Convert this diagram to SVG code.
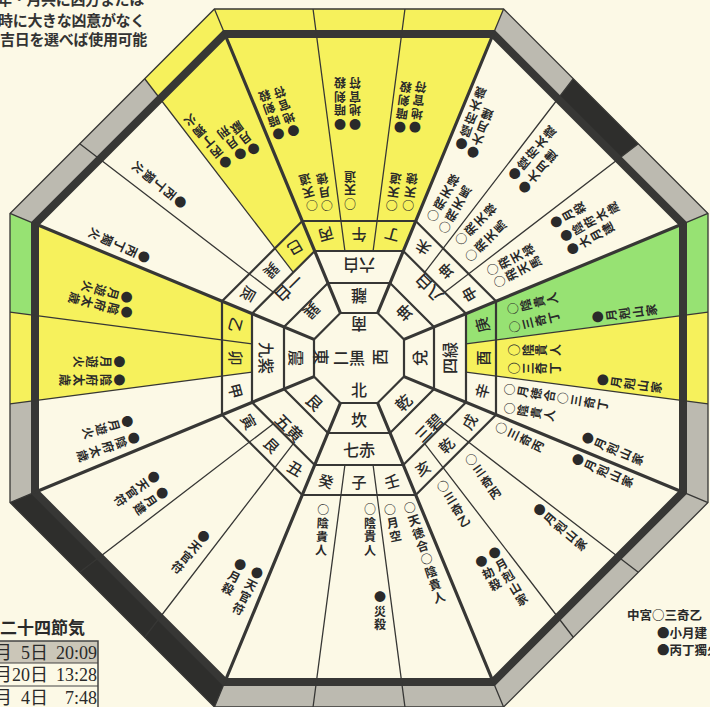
<svg xmlns="http://www.w3.org/2000/svg" width="710" height="707" viewBox="0 0 710 707">
<style>
.gray{fill:#bcbab0}
.yel{fill:#f6f15c}
.grn{fill:#97e273}
.blk{fill:#2e2e2c}
.ln{fill:none;stroke:#373735;stroke-linejoin:miter}
.ring{stroke-width:2.2}
.thick{stroke-width:3.2}
.thin{stroke-width:1.3}
.v{writing-mode:vertical-rl;text-orientation:upright;font-family:'Noto Sans CJK JP',sans-serif;font-size:12px;font-weight:700;fill:#2a2a2a;letter-spacing:1.5px}
.lab{font-family:'Noto Sans CJK JP',sans-serif;font-size:16px;font-weight:500;fill:#2a2a2a;text-anchor:middle;dominant-baseline:central}
.m{font-size:15px}
</style>
<rect width="710" height="707" fill="#fcf9e6"/>

<g id="band">
<path class="gray" fill-rule="evenodd" d="M214.44,9 L503.56,9 L708,213.44 L708,502.56 L503.56,707 L214.44,707 L10,502.56 L10,213.44 Z M224.8,34 L35,223.8 L35,492.2 L224.8,682 L493.2,682 L683,492.2 L683,223.8 L493.2,34 Z"/>
<polygon class="yel" points="214.44,9 503.56,9 493.2,34 224.8,34"/>
<polygon class="yel" points="224.8,34 214.44,9 144.71,78.73 160.06,98.74"/>
<polygon class="grn" points="35,223.8 10,213.44 10,312.05 35,315.35"/>
<polygon class="yel" points="35,315.35 10,312.05 10,403.95 35,400.65"/>
<polygon class="grn" points="683,223.8 708,213.44 708,312.05 683,315.35"/>
<polygon class="yel" points="683,315.35 708,312.05 708,403.95 683,400.65"/>
<polygon class="blk" points="557.94,98.74 573.29,78.73 638.27,143.71 618.26,159.06"/>
<polygon class="blk" points="35,492.2 10,502.56 214.44,707 224.8,682"/>
</g>

<g id="fills">
<polygon class="yel" points="314.68,251 403.32,251 493.2,34 224.8,34"/>
<polygon class="yel" points="314.68,251 224.8,34 160.06,98.74 293.30,272.38"/>
<polygon class="yel" points="252,313.68 35,223.8 35,400.65 252,372.09"/>
<polygon class="grn" points="466,313.68 683,223.8 683,315.35 466,343.91"/>
<polygon class="yel" points="466,343.91 683,315.35 683,400.65 466,372.09"/>
</g>

<g id="connectors">
<polygon class="ln thin" points="214.44,9 503.56,9 708,213.44 708,502.56 503.56,707 214.44,707 10,502.56 10,213.44"/>
<polygon class="ln" stroke-width="8" points="224.8,34 493.2,34 683,223.8 683,492.2 493.2,682 224.8,682 35,492.2 35,223.8"/>
<polygon class="ln ring" stroke-width="2.6" points="302.25,221 415.75,221 496,301.25 496,414.75 415.75,495 302.25,495 222,414.75 222,301.25"/>
<polygon class="ln ring" points="314.68,251 403.32,251 466,313.68 466,402.32 403.32,465 314.68,465 252,402.32 252,313.68"/>
<polygon class="ln ring" points="327.93,283 390.07,283 434,326.93 434,389.07 390.07,433 327.93,433 284,389.07 284,326.93"/>
<polygon class="ln ring" points="340.36,313 377.64,313 404,339.36 404,376.64 377.64,403 340.36,403 314,376.64 314,339.36"/>
<path class="ln thick" d="M340.36,313 L224.8,34 M377.64,313 L493.2,34 M404,339.36 L683,223.8 M404,376.64 L683,492.2 M377.64,403 L493.2,682 M340.36,403 L224.8,682 M314,376.64 L35,492.2 M314,339.36 L35,223.8"/>
<path class="ln thin" d="M224.8,34 L214.44,9 M493.2,34 L503.56,9 M683,223.8 L708,213.44 M683,492.2 L708,502.56 M493.2,682 L503.56,707 M224.8,682 L214.44,707 M35,492.2 L10,502.56 M35,223.8 L10,213.44"/>
<path class="ln thin" d="M344.91,251 L313.05,9 M373.09,251 L404.95,9 M373.09,465 L404.95,707 M344.91,465 L313.05,707 M252,343.91 L10,312.05 M252,372.09 L10,403.95 M466,343.91 L708,312.05 M466,372.09 L708,403.95 M424.70,272.38 L573.29,78.73 M444.62,292.30 L638.27,143.71 M293.30,272.38 L144.71,78.73 M273.38,292.30 L79.73,143.71 M444.62,423.70 L638.27,572.29 M424.70,443.62 L573.29,637.27 M273.38,423.70 L79.73,572.29 M293.30,443.62 L144.71,637.27"/>
</g>

<g id="center" class="lab">
<text transform="translate(359,325) rotate(180)">南</text>
<text transform="translate(359,389)">北</text>
<text transform="translate(322,357) rotate(90)">東</text>
<text transform="translate(349,357)">二黒</text>
<text transform="translate(379,357) rotate(-90)">西</text>
</g>

<g id="trigrams" class="lab">
<text transform="translate(359,358) rotate(0) translate(0,-61) rotate(180)">離</text>
<text transform="translate(359,358) rotate(45) translate(0,-64) rotate(180)">坤</text>
<text transform="translate(359,358) rotate(90) translate(0,-60) rotate(180)">兌</text>
<text transform="translate(359,358) rotate(135) translate(0,-62) rotate(180)">乾</text>
<text transform="translate(359,358) rotate(180) translate(0,-61) rotate(180)">坎</text>
<text transform="translate(359,358) rotate(-135) translate(0,-62) rotate(180)">艮</text>
<text transform="translate(359,358) rotate(-90) translate(0,-62) rotate(180)">震</text>
<text transform="translate(359,358) rotate(-45) translate(0,-66) rotate(180)">巽</text>
</g>

<g id="stars" class="lab">
<text transform="translate(359,358) rotate(0) translate(0,-92) rotate(180)">六白</text>
<text transform="translate(359,358) rotate(45) translate(0,-98) rotate(180)">八白</text>
<text transform="translate(359,358) rotate(90) translate(0,-90) rotate(180)">四緑</text>
<text transform="translate(359,358) rotate(135) translate(0,-98) rotate(180)">三碧</text>
<text transform="translate(359,358) rotate(180) translate(0,-91) rotate(180)">七赤</text>
<text transform="translate(359,358) rotate(-135) translate(0,-98) rotate(180)">五黄</text>
<text transform="translate(359,358) rotate(-90) translate(0,-92) rotate(180)">九紫</text>
<text transform="translate(359,358) rotate(-45) translate(0,-98) rotate(180)">一白</text>
</g>

<g id="mountains" class="lab m">
<text transform="translate(359,358) rotate(0) translate(0,-123) rotate(180)">午</text>
<text transform="translate(359,358) rotate(15) translate(0,-127) rotate(180)">丁</text>
<text transform="translate(359,358) rotate(30) translate(0,-127) rotate(180)">未</text>
<text transform="translate(359,358) rotate(45) translate(0,-123) rotate(180)">坤</text>
<text transform="translate(359,358) rotate(60) translate(0,-127) rotate(180)">申</text>
<text transform="translate(359,358) rotate(75) translate(0,-127) rotate(180)">庚</text>
<text transform="translate(359,358) rotate(90) translate(0,-123) rotate(180)">酉</text>
<text transform="translate(359,358) rotate(105) translate(0,-127) rotate(180)">辛</text>
<text transform="translate(359,358) rotate(120) translate(0,-127) rotate(180)">戌</text>
<text transform="translate(359,358) rotate(135) translate(0,-123) rotate(180)">乾</text>
<text transform="translate(359,358) rotate(150) translate(0,-127) rotate(180)">亥</text>
<text transform="translate(359,358) rotate(165) translate(0,-127) rotate(180)">壬</text>
<text transform="translate(359,358) rotate(180) translate(0,-123) rotate(180)">子</text>
<text transform="translate(359,358) rotate(-165) translate(0,-127) rotate(180)">癸</text>
<text transform="translate(359,358) rotate(-150) translate(0,-127) rotate(180)">丑</text>
<text transform="translate(359,358) rotate(-135) translate(0,-123) rotate(180)">艮</text>
<text transform="translate(359,358) rotate(-120) translate(0,-127) rotate(180)">寅</text>
<text transform="translate(359,358) rotate(-105) translate(0,-127) rotate(180)">甲</text>
<text transform="translate(359,358) rotate(-90) translate(0,-123) rotate(180)">卯</text>
<text transform="translate(359,358) rotate(-75) translate(0,-127) rotate(180)">乙</text>
<text transform="translate(359,358) rotate(-60) translate(0,-127) rotate(180)">辰</text>
<text transform="translate(359,358) rotate(-45) translate(0,-123) rotate(180)">巽</text>
<text transform="translate(359,358) rotate(-30) translate(0,-127) rotate(180)">巳</text>
<text transform="translate(359,358) rotate(-15) translate(0,-127) rotate(180)">丙</text>
</g>

<g id="sector-S">
<text class="v" transform="translate(311.7,205) rotate(-195)" y="-6.5">○天道</text>
<text class="v" transform="translate(326.7,205) rotate(-190)" y="-6.5">○月徳</text>
<text class="v" transform="translate(278.3,133.3) rotate(-200)" y="-6.5">●暗剣殺</text>
<text class="v" transform="translate(293.3,130) rotate(-200)" y="-6.5">●地官符</text>
<text class="v" transform="translate(350,203) rotate(-180)" y="-6.5">○天道</text>
<text class="v" transform="translate(340,123) rotate(-180)" y="-6.5">●暗剣殺</text>
<text class="v" transform="translate(355,123) rotate(-180)" y="-6.5">●地官符</text>
<text class="v" transform="translate(391.7,205) rotate(-172)" y="-6.5">○天道</text>
<text class="v" transform="translate(408.3,205) rotate(-172)" y="-6.5">○天徳</text>
<text class="v" transform="translate(400,126.7) rotate(-172)" y="-6.5">●暗剣殺</text>
<text class="v" transform="translate(415,126.7) rotate(-172)" y="-6.5">●地官符</text>
</g>

<g id="sector-SE">
<text class="v" transform="translate(225,161.7) rotate(-220)" y="-6.5">●丙丁獨火</text>
<text class="v" transform="translate(240,153.3) rotate(-218)" y="-6.5">●月刑</text>
<text class="v" transform="translate(253.3,148.3) rotate(-218)" y="-6.5">●月厭</text>
<text class="v" transform="translate(180,201.7) rotate(-231)" y="-6.5">●丙丁獨火</text>
<text class="v" transform="translate(143.3,256.7) rotate(-245)" y="-6.5">●丙丁獨火</text>
</g>

<g id="sector-E">
<text class="v" transform="translate(126,297) rotate(-255)" y="-6.5">●月遊火</text>
<text class="v" transform="translate(126,312) rotate(-255)" y="-6.5">●陰府太歳</text>
<text class="v" transform="translate(118.3,361.7) rotate(-270)" y="-6.5">●月遊火</text>
<text class="v" transform="translate(118.3,380) rotate(-270)" y="-6.5">●陰府太歳</text>
<text class="v" transform="translate(126.7,421.7) rotate(-286)" y="-6.5">●月遊火</text>
<text class="v" transform="translate(133.3,438.3) rotate(-289)" y="-6.5">●陰府太歳</text>
</g>

<g id="sector-NE">
<text class="v" transform="translate(153.3,477.3) rotate(-305)" y="-6.5">●天官符</text>
<text class="v" transform="translate(161.7,493.3) rotate(-305)" y="-6.5">●月建</text>
<text class="v" transform="translate(203.3,536.7) rotate(-320)" y="-6.5">●天官符</text>
<text class="v" transform="translate(256.7,573.3) rotate(-333)" y="-6.5">●天官符</text>
<text class="v" transform="translate(240,565) rotate(-333)" y="-6.5">●月殺</text>
</g>

<g id="sector-N">
<text class="v" transform="translate(323.3,510) rotate(-357)" y="-6.5">○陰貴人</text>
<text class="v" transform="translate(370,510)" y="-6.5">○陰貴人</text>
<text class="v" transform="translate(390,510) rotate(-12)" y="-6.5">○月空</text>
<text class="v" transform="translate(380,598)" y="-6.5">●災殺</text>
<text class="v" transform="translate(410,508) rotate(-18)" y="-6.5">○天徳合○陰貴人</text>
</g>

<g id="sector-NW">
<text class="v" transform="translate(443.3,486.7) rotate(-31)" y="-6.5">○三奇乙</text>
<text class="v" transform="translate(495,553.3) rotate(-30)" y="-6.5">●月剋山家</text>
<text class="v" transform="translate(481.7,561.7) rotate(-30)" y="-6.5">●劫殺</text>
<text class="v" transform="translate(471.7,460) rotate(-35)" y="-6.5">○三奇丙</text>
<text class="v" transform="translate(540,510) rotate(-50)" y="-6.5">●月剋山家</text>
<text class="v" transform="translate(501.7,428.3) rotate(-64)" y="-6.5">○三奇丙</text>
<text class="v" transform="translate(578.3,460) rotate(-66.5)" y="-6.5">●月剋山家</text>
</g>

<g id="sector-W">
<text class="v" transform="translate(588.3,438.3) rotate(-67)" y="-6.5">●月剋山家</text>
<text class="v" transform="translate(510,389.3) rotate(-80.5)" y="-6.5">○月徳合○三奇丁</text>
<text class="v" transform="translate(510,408.3) rotate(-80)" y="-6.5">○陰貴人</text>
<text class="v" transform="translate(515,350) rotate(-90)" y="-6.5">○陰貴人</text>
<text class="v" transform="translate(515,368.3) rotate(-90)" y="-6.5">○三奇丁</text>
<text class="v" transform="translate(603.3,380) rotate(-82)" y="-6.5">●月剋山家</text>
<text class="v" transform="translate(513.3,308.3) rotate(-104)" y="-6.5">○陰貴人</text>
<text class="v" transform="translate(515,326.7) rotate(-104)" y="-6.5">○三奇丁</text>
<text class="v" transform="translate(598.3,316.7) rotate(-97)" y="-6.5">●月剋山家</text>
</g>

<g id="sector-SW">
<text class="v" transform="translate(493,269) rotate(-118)" y="-6.5">○飛天禄</text>
<text class="v" transform="translate(500,281) rotate(-118)" y="-6.5">○飛天馬</text>
<text class="v" transform="translate(556.7,221.7) rotate(-120)" y="-6.5">●月殺</text>
<text class="v" transform="translate(566.7,235) rotate(-120)" y="-6.5">●陰府太歳</text>
<text class="v" transform="translate(573.3,248.3) rotate(-120)" y="-6.5">●大月建</text>
<text class="v" transform="translate(461.7,238.3) rotate(-135)" y="-6.5">○飛天禄</text>
<text class="v" transform="translate(471.7,255) rotate(-135)" y="-6.5">○飛天馬</text>
<text class="v" transform="translate(515,173.3) rotate(-140)" y="-6.5">●陰府太歳</text>
<text class="v" transform="translate(525,186.7) rotate(-140)" y="-6.5">●大月建</text>
<text class="v" transform="translate(433.3,215) rotate(-150)" y="-6.5">○飛天禄</text>
<text class="v" transform="translate(445,226.7) rotate(-150)" y="-6.5">○飛天馬</text>
<text class="v" transform="translate(461.7,143.3) rotate(-160)" y="-6.5">●陰府太歳</text>
<text class="v" transform="translate(473.3,151.7) rotate(-160)" y="-6.5">●大月建</text>
</g>

<g id="note" font-family="'Noto Sans CJK JP',sans-serif" font-weight="700" font-size="15" fill="#333" text-anchor="end" letter-spacing="-0.3">
<text x="144" y="5">年・月共に凶方または</text>
<text x="145" y="25.5">時に大きな凶意がなく</text>
<text x="147" y="45">吉日を選べば使用可能</text>
</g>

<g id="sekki" fill="#2a2a2a">
<text x="0" y="634" font-family="'Noto Sans CJK JP',sans-serif" font-weight="700" font-size="17">二十四節気</text>
<rect x="-2" y="641" width="100" height="22" fill="#cbc6b8"/>
<rect x="-2" y="641" width="100" height="70" fill="none" stroke="#444" stroke-width="1.5"/>
<path d="M-2,663 H98 M-2,686 H98" stroke="#444" stroke-width="1"/>
<g font-family="'Liberation Serif','Noto Sans CJK JP',serif" font-size="18">
<text x="-6" y="659">月</text><text x="48" y="659" text-anchor="end">5日</text><text x="97" y="659" text-anchor="end">20:09</text>
<text x="-6" y="681">月</text><text x="48" y="681" text-anchor="end">20日</text><text x="97" y="681" text-anchor="end">13:28</text>
<text x="-6" y="704">月</text><text x="48" y="704" text-anchor="end">4日</text><text x="97" y="704" text-anchor="end">7:48</text>
</g>
</g>

<g id="chukyu" font-family="'Noto Sans CJK JP',sans-serif" font-weight="700" font-size="12.5" fill="#2a2a2a">
<text x="627" y="620">中宮○三奇乙</text>
<text x="657" y="637.5">●小月建</text>
<text x="657" y="655">●丙丁獨火</text>
</g>
</svg>
